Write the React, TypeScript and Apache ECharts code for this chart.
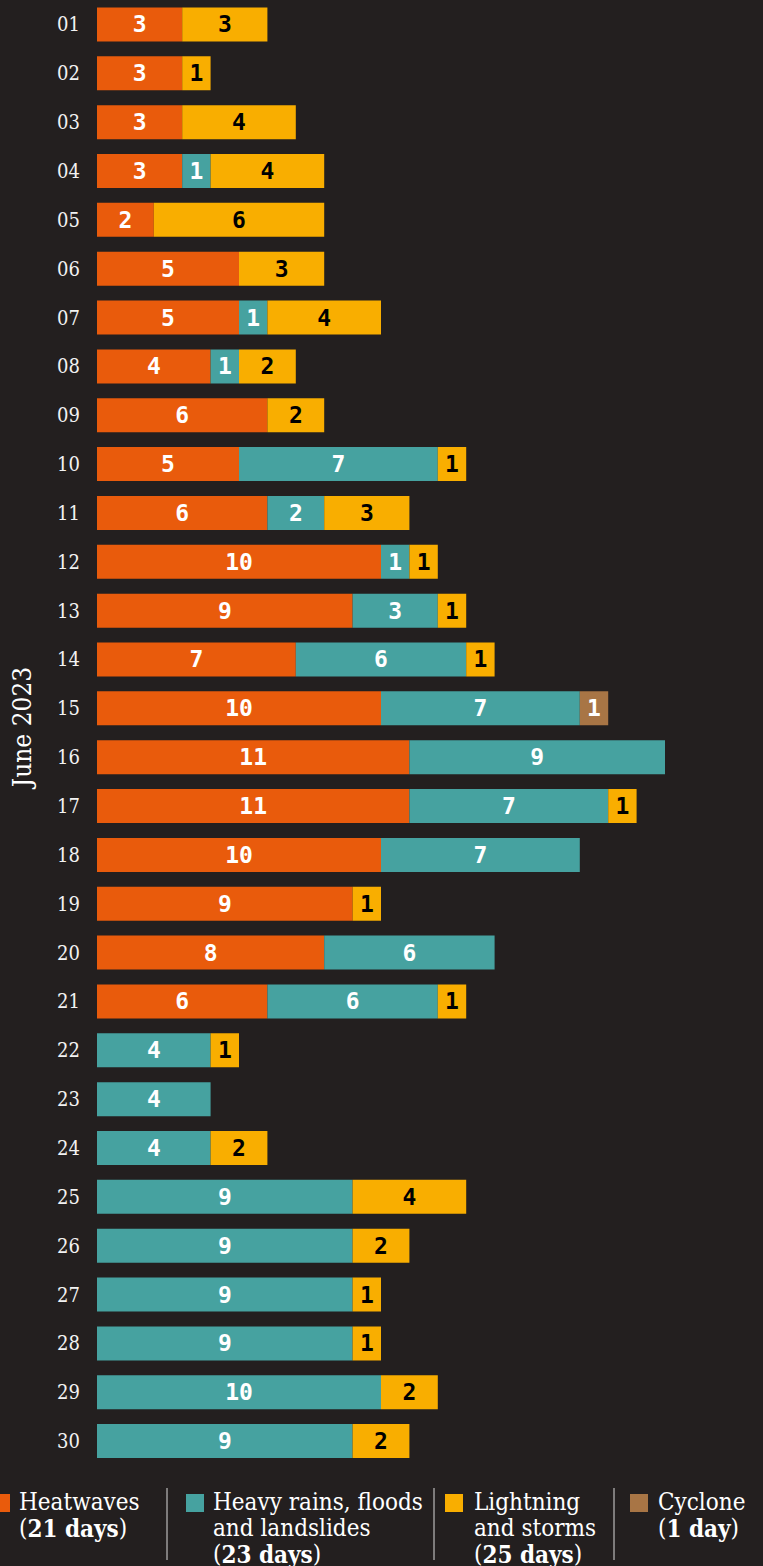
import React, { useEffect, useRef } from "react";
import * as echarts from "echarts";

const days = ["01","02","03","04","05","06","07","08","09","10","11","12","13","14","15","16","17","18","19","20","21","22","23","24","25","26","27","28","29","30"];
const heatwaves = [3,3,3,3,2,5,5,4,6,5,6,10,9,7,10,11,11,10,9,8,6,0,0,0,0,0,0,0,0,0];
const rains = [0,0,0,1,0,0,1,1,0,7,2,1,3,6,7,9,7,7,0,6,6,4,4,4,9,9,9,9,10,9];
const lightning = [3,1,4,4,6,3,4,2,2,1,3,1,1,1,0,0,1,0,1,0,1,1,0,2,4,2,1,1,2,2];
const cyclone = [0,0,0,0,0,0,0,0,0,0,0,0,0,0,1,0,0,0,0,0,0,0,0,0,0,0,0,0,0,0];

const BG = "#231f1f";
const C_HEAT = "#e95b0c";
const C_RAIN = "#46a2a0";
const C_LIGHT = "#f9ae00";
const C_CYC = "#a87545";
const SERIF = "'DejaVu Serif Condensed', 'DejaVu Serif', serif";
const MONO = "'DejaVu Sans Mono', monospace";

function mk(name: string, data: number[], color: string, labelColor: string) {
  return {
    name,
    type: "bar",
    stack: "total",
    barWidth: 34,
    data: data.map((v) => (v === 0 ? null : v)),
    itemStyle: { color },
    label: {
      show: true,
      position: "inside",
      color: labelColor,
      fontFamily: MONO,
      fontWeight: "bold",
      fontSize: 23,
      formatter: (p: any) => (p.value ? String(p.value) : ""),
    },
  };
}

export default function App() {
  const ref = useRef<HTMLDivElement>(null);
  useEffect(() => {
    document.body.style.margin = "0";
    document.body.style.background = BG;
    const chart = echarts.init(ref.current!, null, { renderer: "svg" });
    const FS = 24;
    const txt = (x: number, y: number, text: string) => ({
      type: "text",
      x,
      y,
      style: {
        text,
        fill: "#ffffff",
        fontSize: FS,
        fontFamily: SERIF,
        verticalAlign: "middle",
        rich: {
          n: { fontSize: FS, fontFamily: SERIF, color: "#ffffff" },
          b: { fontSize: FS, fontFamily: SERIF, fontWeight: "bold", color: "#ffffff" },
        },
      },
    });
    const box = (x: number, color: string) => ({
      type: "rect",
      shape: { x, y: 1494, width: 18, height: 18 },
      style: { fill: color },
    });
    const vline = (x: number) => ({
      type: "line",
      shape: { x1: x, y1: 1488, x2: x, y2: 1560 },
      style: { stroke: "#d9d9d9", lineWidth: 1 },
    });
    chart.setOption({
      animation: false,
      backgroundColor: BG,
      grid: { left: 97, width: 568, top: -4.5, height: 1470 },
      xAxis: {
        type: "value",
        min: 0,
        max: 20,
        show: false,
      },
      yAxis: {
        type: "category",
        data: days,
        inverse: true,
        axisLine: { show: false },
        axisTick: { show: false },
        axisLabel: {
          color: "#f2f2f2",
          fontFamily: SERIF,
          fontSize: 20,
          margin: 17,
        },
      },
      series: [
        mk("Heatwaves", heatwaves, C_HEAT, "#ffffff"),
        mk("Heavy rains, floods and landslides", rains, C_RAIN, "#ffffff"),
        mk("Lightning and storms", lightning, C_LIGHT, "#000000"),
        mk("Cyclone", cyclone, C_CYC, "#ffffff"),
      ],
      graphic: [
        {
          type: "text",
          x: 22,
          y: 727,
          rotation: Math.PI / 2,
          style: {
            text: "June 2023",
            fill: "#ffffff",
            fontSize: 26,
            fontFamily: SERIF,
            align: "center",
            verticalAlign: "middle",
          },
        },
        box(-8, C_HEAT),
        txt(19, 1502, "Heatwaves"),
        txt(19, 1528, "{n|(}{b|21 days}{n|)}"),
        vline(167),
        box(186, C_RAIN),
        txt(213, 1502, "Heavy rains, floods"),
        txt(213, 1528, "and landslides"),
        txt(213, 1554, "{n|(}{b|23 days}{n|)}"),
        vline(434),
        box(445, C_LIGHT),
        txt(474, 1502, "Lightning"),
        txt(474, 1528, "and storms"),
        txt(474, 1554, "{n|(}{b|25 days}{n|)}"),
        vline(614),
        box(630, C_CYC),
        txt(658, 1502, "Cyclone"),
        txt(658, 1528, "{n|(}{b|1 day}{n|)}"),
      ],
    });
    return () => chart.dispose();
  }, []);
  return (
    <div
      ref={ref}
      style={{ position: "absolute", left: 0, top: 0, width: 763, height: 1566 }}
    />
  );
}
